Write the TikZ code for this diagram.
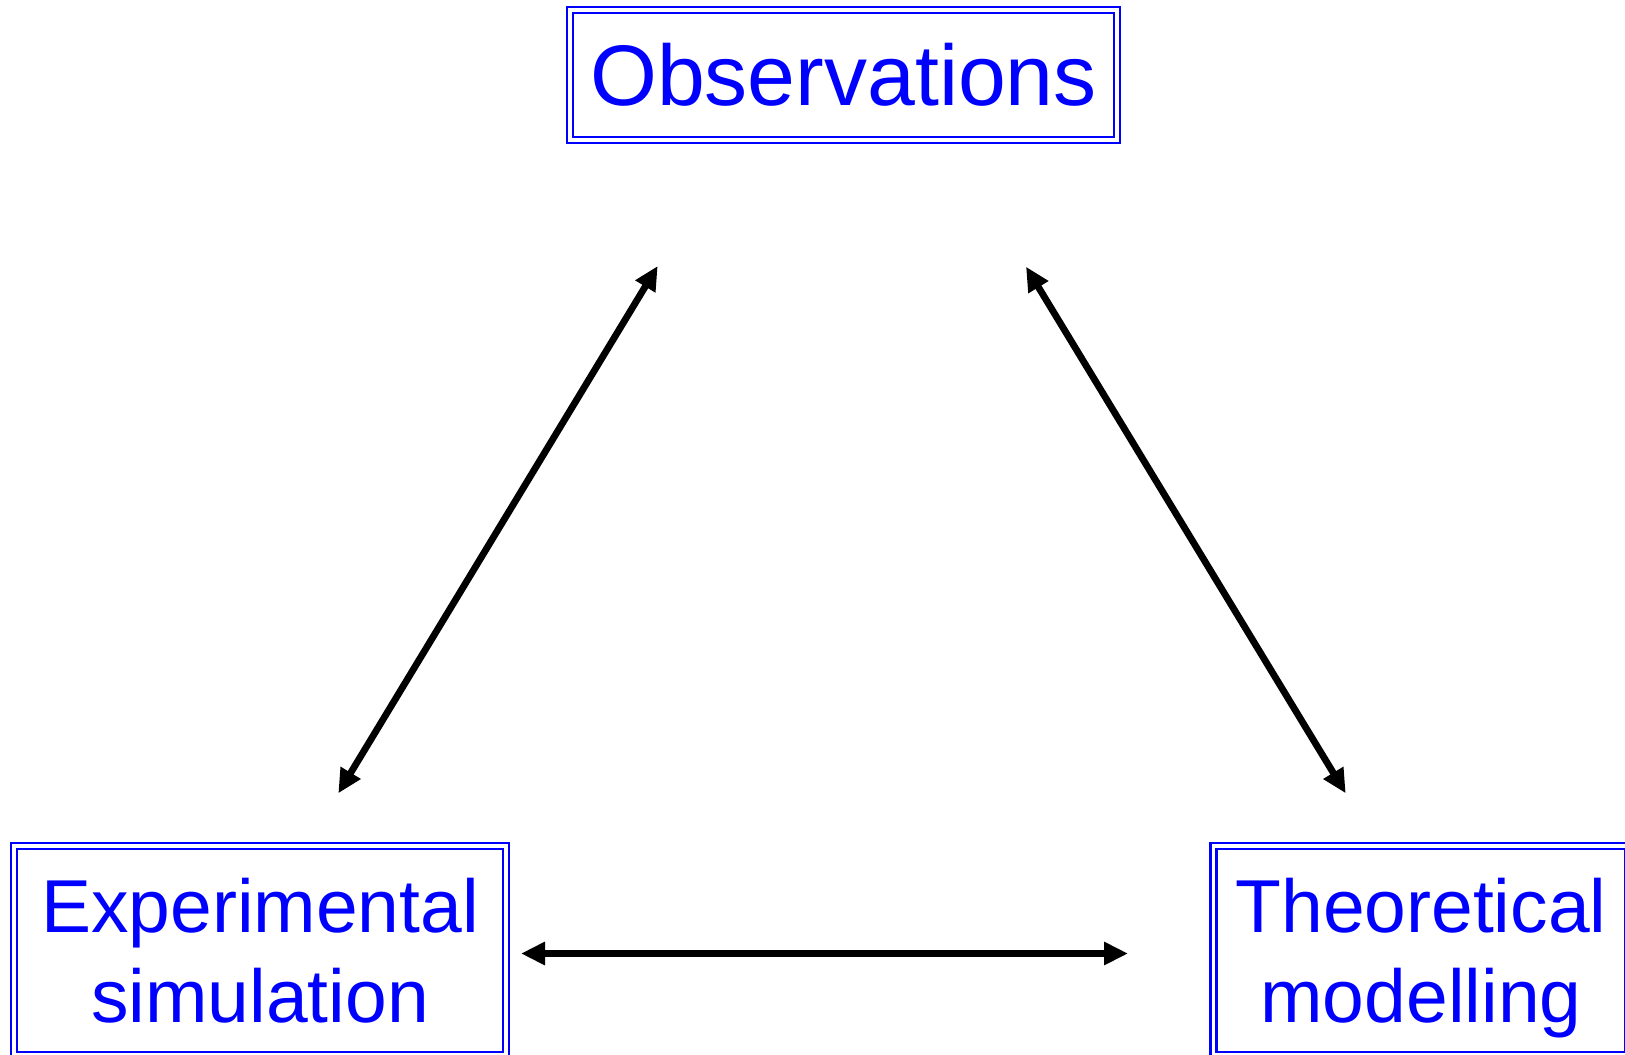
\documentclass[tikz,border=0pt]{standalone}
\usepackage{fontspec}
\setmainfont{Liberation Sans}
\usetikzlibrary{arrows.meta}

\begin{document}
\begin{tikzpicture}[x=0.5pt,y=-0.5pt]
\tikzstyle{every node}=[draw=blue,double=white,line width=1.3pt,double distance=1.6pt,text=blue,inner sep=0pt,align=center];
\tikzstyle{bigbox}=[font=\fontsize{43}{52}\selectfont];
\tikzstyle{lowbox}=[minimum height=104.5pt,font=\fontsize{37.5}{45}\selectfont];
\tikzstyle{link}=[draw=black,line width=3.4pt,{Triangle[length=12pt,width=11pt]}-{Triangle[length=12pt,width=11pt]}];
\useasboundingbox (0,0) rectangle (1625,1054);
\clip (0,0) rectangle (1625,1054);
\path (843.5,75) node[bigbox,minimum width=273.5pt,minimum height=65pt] (obs) {Observations};
\path (260,950.5) node[lowbox,minimum width=246pt] (exp) {Experimental\\simulation};
\path (1421,950.5) node[lowbox,minimum width=207.5pt] (theo) {Theoretical\\\raisebox{0pt}[\height][0pt]{modelling}};
% arrow ends
\path (657.7,266) coordinate (obs-l)
(1026,266.7) coordinate (obs-r)
(338.3,793.3) coordinate (exp-t)
(1345.7,793.3) coordinate (theo-t)
(521,953.5) coordinate (exp-r)
(1128,953.5) coordinate (theo-l);
\draw[link] (exp-t) -- (obs-l);
\draw[link] (obs-r) -- (theo-t);
\draw[link] (exp-r) -- (theo-l);
\end{tikzpicture}
\end{document}
